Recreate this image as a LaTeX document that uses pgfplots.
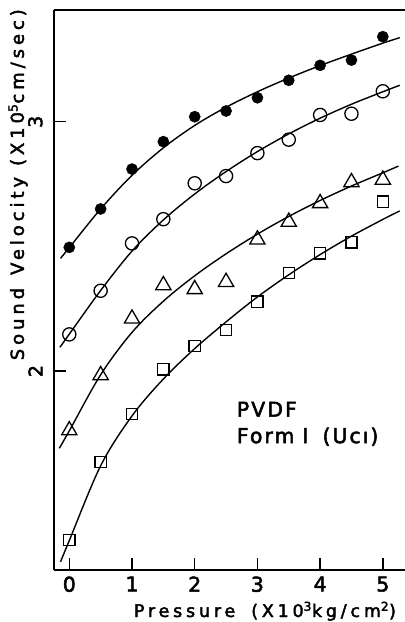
\documentclass[border=0pt]{standalone}
\usepackage{fontspec}
\setmainfont{DejaVu Sans}[FakeBold=2.5]
\newfontfamily\spaced{DejaVu Sans}[LetterSpace=22,FakeBold=2.5]
\newfontfamily\lspaced{DejaVu Sans}[LetterSpace=10,FakeBold=2.5]
\usepackage{pgfplots}
\pgfplotsset{compat=1.18}

\begin{document}
\begin{tikzpicture}
\begin{axis}[
  scale only axis, width=351bp, height=560bp,
  xmin=-0.244, xmax=5.354, ymin=1.202, ymax=3.448,
  axis x line=box, axis y line*=left,
  axis line style={line width=1.7bp},
  xtick={0,1,2,3,4,5}, ytick={2,3},
  xtick pos=bottom, ytick pos=left, tick align=inside,
  major tick length=12bp,
  every tick/.style={black,line width=1.4bp},
  /pgf/number format/assume math mode=true,
  xticklabel style={font=\fontsize{20.5}{22}\selectfont},
  xticklabel shift=3bp,
  yticklabel style={font=\fontsize{19}{22}\selectfont,rotate=90,anchor=south},
  yticklabel shift=8bp,
  xlabel={\spaced\fontsize{17.5}{20}\selectfont Pressure\hspace{16bp}(X10\textsuperscript{3}kg/cm\textsuperscript{2})},
  xlabel style={at={(axis description cs:0.601,0)},anchor=base,yshift=-47bp},
  ylabel={\spaced\fontsize{18}{20}\selectfont Sound\hspace{13bp}Velocity\hspace{11bp}(X10\textsuperscript{5}cm/sec)},
  ylabel style={at={(axis description cs:-0.086,0.688)},anchor=base},
  clip=false,
]
% fitted curves
\addplot[black,line width=1.4bp,smooth,tension=0.55] coordinates {
  (-0.14,2.452) (0,2.495) (0.5,2.65) (1,2.785) (1.5,2.895) (2,2.985) (2.5,3.058)
  (3,3.12) (3.5,3.175) (4,3.225) (4.5,3.271) (5,3.315) (5.27,3.337)};
\addplot[black,line width=1.4bp,smooth,tension=0.55] coordinates {
  (-0.15,2.095) (0,2.148) (0.5,2.323) (1,2.481) (1.5,2.606) (2,2.71) (2.5,2.80)
  (3,2.88) (3.5,2.951) (4,3.014) (4.5,3.07) (5,3.12) (5.27,3.146)};
\addplot[black,line width=1.4bp,smooth,tension=0.55] coordinates {
  (-0.16,1.69) (0,1.76) (0.5,1.985) (1,2.155) (1.5,2.28) (2,2.382) (2.5,2.47)
  (3,2.549) (3.5,2.62) (4,2.684) (4.5,2.742) (5,2.795) (5.25,2.822)};
\addplot[black,line width=1.4bp,smooth,tension=0.55] coordinates {
  (-0.14,1.235) (0,1.32) (0.5,1.62) (1,1.82) (1.5,1.968) (2,2.09) (2.5,2.197)
  (3,2.297) (3.5,2.386) (4,2.467) (4.5,2.541) (5,2.608) (5.27,2.642)};
% measured points
\addplot[only marks,mark=*,mark size=5.6bp,black] coordinates {
  (0,2.496) (0.5,2.65) (1,2.81) (1.5,2.92) (2,3.02) (2.5,3.043)
  (3,3.096) (3.5,3.166) (4,3.226) (4.5,3.247) (5,3.341)};
\addplot[only marks,mark=o,mark size=6.6bp,black,mark options={line width=1.3bp,fill=white}] coordinates {
  (0,2.147) (0.5,2.322) (1,2.512) (1.5,2.609) (2,2.753) (2.5,2.782)
  (3,2.874) (3.5,2.928) (4,3.027) (4.5,3.032) (5,3.122)};
\addplot[only marks,mark=triangle,mark size=8.8bp,black,mark options={line width=1.3bp}] coordinates {
  (0,1.762) (0.5,1.983) (1,2.210) (1.5,2.344) (2,2.328) (2.5,2.357)
  (3,2.527) (3.5,2.598) (4,2.673) (4.5,2.757) (5,2.767)};
\addplot[only marks,mark=square,mark size=5.6bp,black,mark options={line width=1.3bp}] coordinates {
  (0,1.322) (0.5,1.636) (1,1.828) (1.5,2.007) (2,2.101) (2.5,2.164)
  (3,2.278) (3.5,2.394) (4,2.472) (4.5,2.516) (5,2.679)};
\node[anchor=base west,inner sep=0pt,font=\fontsize{20.5}{24}\selectfont] at (axis cs:2.67,1.817) {\lspaced PVDF};
\node[anchor=base west,inner sep=0pt,font=\fontsize{20.5}{24}\selectfont] at (axis cs:2.67,1.711) {\lspaced Form\hspace{8bp}I\hspace{14bp}(Ucı)};
\coordinate (tl) at (rel axis cs:0,1);
\coordinate (br) at (rel axis cs:1,0);
\end{axis}
\pgfresetboundingbox
\path[use as bounding box] ([xshift=-54bp,yshift=10bp]tl) rectangle ([yshift=-52bp]br);
\end{tikzpicture}
\end{document}
